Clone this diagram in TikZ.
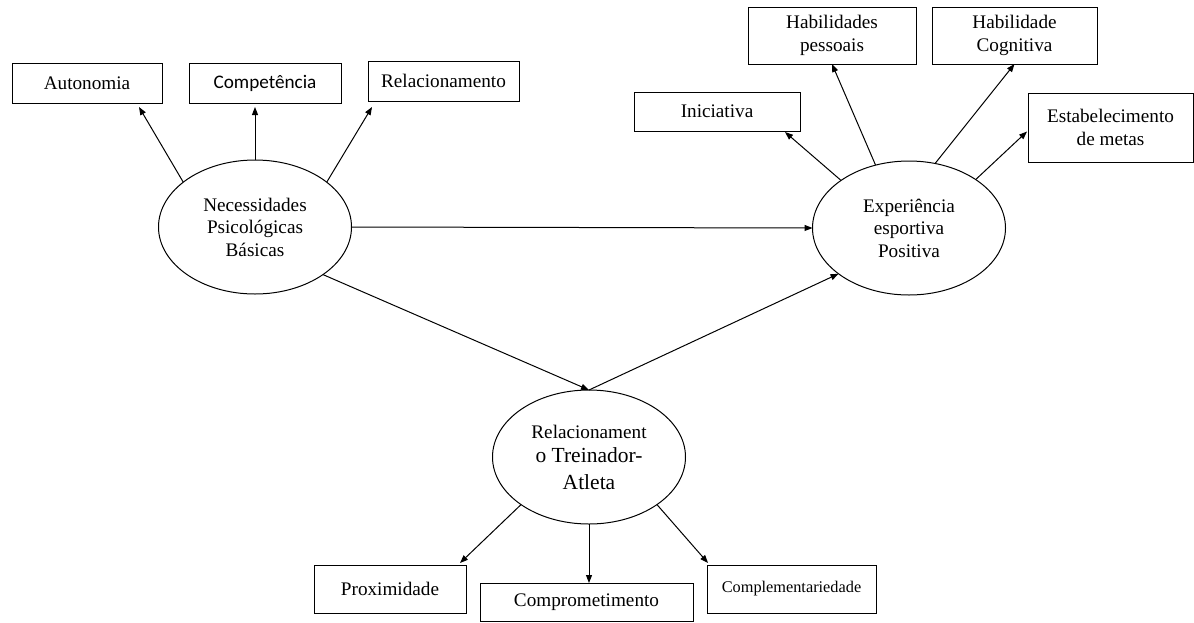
\documentclass[tikz,border=0pt]{standalone}
\usepackage{fontspec}
\setmainfont{Liberation Serif}
\newfontfamily\calibri{Carlito}
\usepackage{tikz}
\usetikzlibrary{ % tikz packages
    calc,shapes.geometric,
    arrows.meta
}
\tikzset{latent/.style={
    ellipse, draw,
    line width=1pt,
    outer sep=0pt,
    align=center,
    minimum width=193pt,
    minimum height=134pt,
    font=\fontsize{19.2}{22.5}\selectfont
}}
\tikzset{indicator/.style={
    rectangle, draw,
    line width=1pt,
    outer sep=0pt,
    align=center,
    font=\fontsize{19.2}{23}\selectfont
}}
\tikzset{>={Triangle[length=8pt,width=6pt]}}
\newcommand{\bigline}{\fontsize{21.5}{26}\selectfont}

\begin{document}
\begin{tikzpicture}[x=1pt,y=-1pt,line width=1pt]
        \useasboundingbox (0,0) rectangle (1194,622);

        \node[latent] (npb) at (255,227) {Necessidades\\Psicológicas\\Básicas};
        \node[latent] (eep) at (909,228) {Experiência\\esportiva\\Positiva};
        \node[latent] (rta) at (589,457) {Relacionament\\[2pt]{\bigline o Treinador-}\\[4pt]{\bigline Atleta}};

        \node[indicator, minimum width=150pt, minimum height=40pt] (aut) at (87,83) {Autonomia};
        \node[indicator, minimum width=152pt, minimum height=40pt] (comp) at (265,83) {\calibri Competência};
        \node[indicator, minimum width=151pt, minimum height=40pt] (rel) at (443.5,81) {Relacionamento};

        \node[indicator, minimum width=166pt, minimum height=39pt] (ini) at (717,111.5) {Iniciativa};
        \node[indicator, minimum width=168pt, minimum height=57pt] (hp) at (832,35.5) {Habilidades\\pessoais};
        \node[indicator, minimum width=165pt, minimum height=57pt] (hc) at (1014.5,35.5) {Habilidade\\Cognitiva};
        \node[indicator, minimum width=165pt, minimum height=69pt] (est) at (1110.5,127.5) {Estabelecimento\\de metas};

        \node[indicator, minimum width=152pt, minimum height=48pt] (prox) at (390,589) {Proximidade};
        \node[indicator, minimum width=213pt, minimum height=38pt] (compr) at (586.5,602) {Comprometimento};
        \node[indicator, minimum width=169pt, minimum height=48pt] (compl) at (791.5,589) {\fontsize{16.3}{19}\selectfont Complementariedade};

        \path[->]
            (npb.148)
                edge ($(aut.south)+(52,4)$)
            (npb.north)
                edge ($(npb.north |- comp.south)+(0,4)$)
            (npb.32)
                edge ($(rel.south west)+(4,6)$)
            (npb.east)
                edge (eep.west)
            (npb.-35)
                edge (rta.north)
            (rta.north)
                edge (eep.213)
            (eep.145)
                edge ($(ini.south east)+(-15,1)$)
            (eep.118)
                edge (hp.south)
            (eep.68)
                edge (hc.south)
            (eep.36)
                edge ($(est.west)+(-1,4)$)
            (rta.215)
                edge ($(prox.north east)+(-6,-2)$)
            (rta.south)
                edge (rta.south |- compr.north)
            (rta.-35)
                edge ($(compl.north west)+(1,-2)$);
    \end{tikzpicture}
\end{document}
